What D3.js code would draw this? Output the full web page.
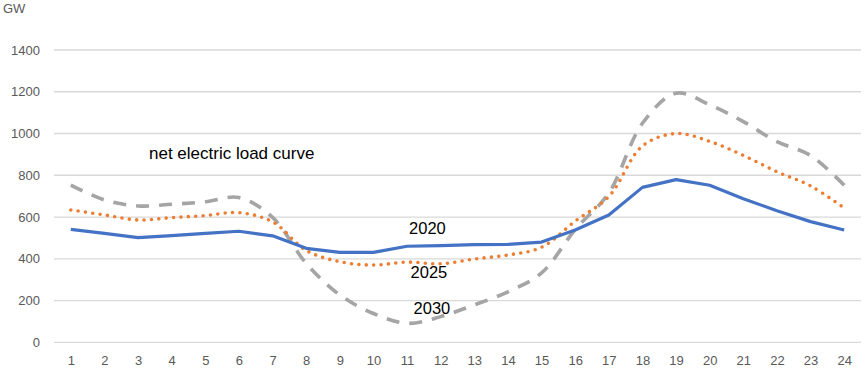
<!DOCTYPE html>
<html>
<head>
<meta charset="utf-8">
<script src="https://cdn.jsdelivr.net/npm/d3@7"></script>
<style>
  body { margin: 0; background: #fff; }
  svg text { font-family: "Liberation Sans", Arial, sans-serif; }
</style>
</head>
<body>
<div id="chart"></div>
<script>
// hours of the day and the three net load curves (GW)
var hours = d3.range(1, 25);
var load2020 = [541, 522, 501, 511, 522, 532, 510, 450, 431, 431, 460, 463, 468, 469, 480, 538, 610, 742, 779, 752, 688, 630, 578, 538];
var load2025 = [634, 610, 586, 597, 607, 621, 577, 440, 386, 370, 384, 376, 399, 418, 455, 580, 698, 940, 1000, 962, 895, 817, 749, 643];
var load2030 = [753, 682, 653, 661, 673, 693, 598, 378, 227, 138, 91, 123, 179, 242, 332, 540, 715, 1049, 1193, 1138, 1057, 961, 895, 752];
var yTicks = [0, 200, 400, 600, 800, 1000, 1200, 1400];

// size of the picture
var width = 865, height = 372;
var plot = {left: 54, right: 861, top: 50, bottom: 342.3};

var svg = d3.select("#chart").append("svg")
  .attr("width", width)
  .attr("height", height);

// x is a point scale, one slot per hour
var x = d3.scalePoint()
  .domain(hours)
  .range([plot.left, plot.right])
  .padding(0.5);

var y = d3.scaleLinear()
  .domain([0, 1400])
  .range([plot.bottom, plot.top]);

// horizontal grid lines
svg.append("g")
  .selectAll("line")
  .data(yTicks)
  .enter()
  .append("line")
    .attr("x1", plot.left)
    .attr("x2", plot.right)
    .attr("y1", function(d) { return y(d); })
    .attr("y2", function(d) { return y(d); })
    .attr("stroke", "#d9d9d9")
    .attr("stroke-width", 1.3);

// y axis labels
var yAxis = svg.append("g")
  .attr("transform", "translate(40,0)")
  .call(d3.axisLeft(y).tickValues(yTicks).tickFormat(d3.format("d")).tickSize(0).tickPadding(0));
yAxis.select(".domain").remove();
yAxis.selectAll("text")
  .attr("fill", "#595959")
  .style("font-size", "13px");

// x axis labels
var xAxis = svg.append("g")
  .attr("transform", "translate(0," + (plot.bottom + 13) + ")")
  .call(d3.axisBottom(x).tickSize(0).tickPadding(0));
xAxis.select(".domain").remove();
xAxis.selectAll("text")
  .attr("fill", "#595959")
  .style("font-size", "13px");

// unit
svg.append("text")
  .attr("x", 3)
  .attr("y", 13)
  .attr("fill", "#595959")
  .style("font-size", "13px")
  .text("GW");

function drawLine(values, color, dash, curve, w) {
  var line = d3.line()
    .x(function(d, i) { return x(hours[i]); })
    .y(function(d) { return y(d); })
    .curve(curve);
  svg.append("path")
    .datum(values)
    .attr("d", line)
    .attr("fill", "none")
    .attr("stroke", color)
    .attr("stroke-width", w)
    .attr("stroke-dasharray", dash)
    .attr("stroke-linecap", dash == "0 7.4" ? "round" : "butt")
    .attr("stroke-linejoin", "round");
}

drawLine(load2030, "#a5a5a5", "13 10", d3.curveCatmullRom, 3.6);
drawLine(load2025, "#ed7d31", "0 7.4", d3.curveCatmullRom, 3.6);
drawLine(load2020, "#4472c4", null, d3.curveLinear, 3.2);

// annotations
svg.append("text")
  .attr("x", 149)
  .attr("y", 159)
  .attr("fill", "#000")
  .style("font-size", "17px")
  .text("net electric load curve");

var labels = [
  {t: "2020", x: x(11) + 2, y: 234},
  {t: "2025", x: x(11) + 3.5, y: 277.5},
  {t: "2030", x: x(11) + 6.5, y: 313.5}
];
svg.selectAll(".lbl")
  .data(labels)
  .enter()
  .append("text")
    .attr("class", "lbl")
    .attr("x", function(d) { return d.x; })
    .attr("y", function(d) { return d.y; })
    .attr("fill", "#000")
    .style("font-size", "16.5px")
    .text(function(d) { return d.t; });
</script>
</body>
</html>
